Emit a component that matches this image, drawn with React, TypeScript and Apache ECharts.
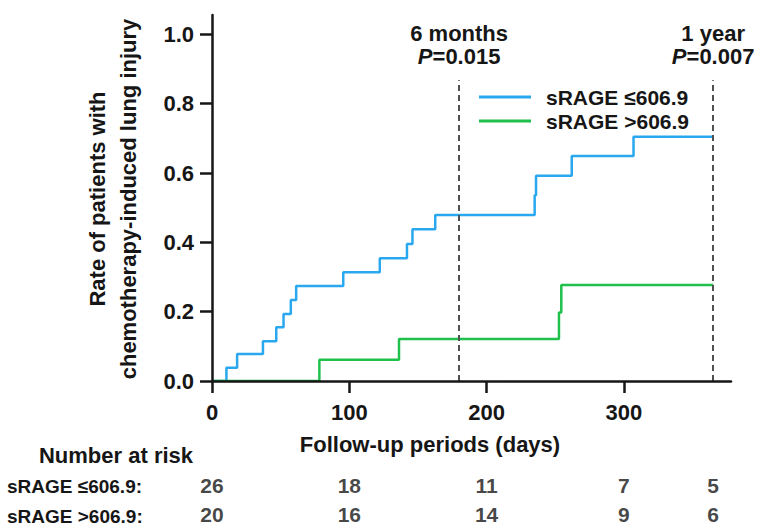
import React, { useEffect, useRef } from "react";
import * as echarts from "echarts";

// ---- data ----
const blueName = "sRAGE ≤606.9";
const greenName = "sRAGE >606.9";
const blueTimes = [0, 10.5, 18.3, 37.1, 46.8, 52.1, 57.4, 61.3, 95.6, 122.2, 142, 146, 162.6, 235, 236, 262, 307, 365];
const blueRates = [0, 0.038, 0.078, 0.115, 0.155, 0.193, 0.234, 0.274, 0.314, 0.354, 0.395, 0.438, 0.479, 0.536, 0.592, 0.649, 0.705, 0.705];
const greenTimes = [0, 78.2, 136.2, 252.7, 254.4, 365];
const greenRates = [0, 0.061, 0.121, 0.198, 0.277, 0.277];
const xTicks = [0, 100, 200, 300];
const yTicks = [0, 0.2, 0.4, 0.6, 0.8, 1.0];
const markTimes = [180, 365];
const markTitles = ["6 months", "1 year"];
const markPValues = ["0.015", "0.007"];
const riskDays = [0, 100, 200, 300, 365];
const riskBlue = [26, 18, 11, 7, 5];
const riskGreen = [20, 16, 14, 9, 6];
const riskRowLabels = ["sRAGE ≤606.9:", "sRAGE >606.9:"];

const FONT = "'Liberation Sans', Arial, sans-serif";
const INK = "#161616";
const BLUE = "#29a8ef";
const GREEN = "#1fc04b";

export default function App() {
  const ref = useRef<HTMLDivElement>(null);
  useEffect(() => {
    if (!ref.current) return;
    const chart = echarts.init(ref.current, null, { renderer: "svg" });
    const pairs = (xs: number[], ys: number[]) => xs.map((x, i) => [x, ys[i]]);
    const riskData = [
      ...riskDays.map((d, i) => [d, "low", riskBlue[i]]),
      ...riskDays.map((d, i) => [d, "high", riskGreen[i]]),
    ];
    chart.setOption({
      animation: false,
      backgroundColor: "#ffffff",
      textStyle: { fontFamily: FONT },
      grid: [
        { left: 212, right: 26, top: 15, bottom: 148 },
        { left: 212, right: 26, top: 471, height: 60 },
      ],
      xAxis: [
        {
          type: "value",
          gridIndex: 0,
          min: 0,
          max: 378,
          interval: 100,
          z: 5,
          axisLine: { show: true, lineStyle: { color: INK, width: 2.5 } },
          axisTick: { show: true, customValues: xTicks, length: 12, lineStyle: { color: INK, width: 2.5 } },
          axisLabel: {
            customValues: xTicks,
            margin: 20,
            fontSize: 22,
            fontWeight: "bold",
            color: INK,
            fontFamily: FONT,
          },
          splitLine: { show: false },
        },
        {
          type: "value",
          gridIndex: 1,
          min: 0,
          max: 378,
          show: false,
        },
      ],
      yAxis: [
        {
          type: "value",
          gridIndex: 0,
          min: 0,
          max: 1.056,
          interval: 0.2,
          z: 5,
          axisLine: { show: true, lineStyle: { color: INK, width: 2.5 } },
          axisTick: { show: true, customValues: yTicks, length: 12, lineStyle: { color: INK, width: 2.5 } },
          axisLabel: {
            customValues: yTicks,
            margin: 18,
            fontSize: 22,
            fontWeight: "bold",
            color: INK,
            fontFamily: FONT,
            formatter: (v: number) => v.toFixed(1),
          },
          splitLine: { show: false },
        },
        {
          type: "category",
          gridIndex: 1,
          data: ["high", "low"],
          show: false,
        },
      ],
      legend: {
        orient: "vertical",
        left: 479,
        top: 86,
        padding: 0,
        icon: "rect",
        itemWidth: 52,
        itemHeight: 3,
        itemGap: 2,
        data: [blueName, greenName],
        textStyle: {
          fontSize: 21,
          fontWeight: "bold",
          color: INK,
          fontFamily: FONT,
          lineHeight: 22,
          padding: [0, 0, 0, 10],
        },
      },
      series: [
        {
          name: blueName,
          type: "line",
          step: "end",
          symbol: "none",
          xAxisIndex: 0,
          yAxisIndex: 0,
          data: pairs(blueTimes, blueRates),
          lineStyle: { color: BLUE, width: 2.5 },
          itemStyle: { color: BLUE },
          markLine: {
            silent: true,
            symbol: "none",
            lineStyle: { color: "#505050", width: 2, type: [6, 4] },
            label: {
              show: true,
              position: "end",
              distance: 12,
              formatter: (p: any) => {
                const i = p.dataIndex;
                return `{t|${markTitles[i]}}\n{i|P}{n|=${markPValues[i]}}`;
              },
              rich: {
                t: { fontSize: 22, fontWeight: "bold", color: INK, fontFamily: FONT, lineHeight: 23, align: "center" },
                i: { fontSize: 22, fontWeight: "bold", fontStyle: "italic", color: INK, fontFamily: FONT, lineHeight: 23 },
                n: { fontSize: 22, fontWeight: "bold", color: INK, fontFamily: FONT, lineHeight: 23 },
              },
            },
            data: markTimes.map((t) => [
              { coord: [t, 0] },
              { coord: [t, 0.868] },
            ]),
          },
        },
        {
          name: greenName,
          type: "line",
          step: "end",
          symbol: "none",
          xAxisIndex: 0,
          yAxisIndex: 0,
          data: pairs(greenTimes, greenRates),
          lineStyle: { color: GREEN, width: 2.5 },
          itemStyle: { color: GREEN },
        },
        {
          name: "risk",
          type: "scatter",
          xAxisIndex: 1,
          yAxisIndex: 1,
          symbolSize: 1,
          itemStyle: { color: "rgba(0,0,0,0)" },
          data: riskData,
          label: {
            show: true,
            position: "inside",
            formatter: (p: any) => String(p.value[2]),
            fontSize: 21,
            fontWeight: "bold",
            color: INK,
            fontFamily: FONT,
          },
        },
      ],
      graphic: [
        {
          type: "text",
          x: 113,
          y: 199,
          rotation: Math.PI / 2,
          style: {
            text: "Rate of patients with\nchemotherapy-induced lung injury",
            fontSize: 22,
            fontWeight: "bold",
            fontFamily: FONT,
            fill: INK,
            align: "center",
            verticalAlign: "middle",
            lineHeight: 31,
          },
        },
        {
          type: "text",
          x: 430,
          y: 444,
          style: {
            text: "Follow-up periods (days)",
            fontSize: 22,
            fontWeight: "bold",
            fontFamily: FONT,
            fill: INK,
            align: "center",
            verticalAlign: "middle",
          },
        },
        {
          type: "text",
          x: 116,
          y: 455,
          style: {
            text: "Number at risk",
            fontSize: 22,
            fontWeight: "bold",
            fontFamily: FONT,
            fill: INK,
            align: "center",
            verticalAlign: "middle",
          },
        },
        ...riskRowLabels.map((t, i) => ({
          type: "text",
          x: 7,
          y: 486 + i * 30,
          style: {
            text: t,
            fontSize: 19,
            fontWeight: "bold",
            fontFamily: FONT,
            fill: INK,
            align: "left",
            verticalAlign: "middle",
          },
        })),
      ],
    });
    return () => chart.dispose();
  }, []);
  return (
    <div
      ref={ref}
      style={{ position: "fixed", left: 0, top: 0, width: 757, height: 529, background: "#fff" }}
    />
  );
}
